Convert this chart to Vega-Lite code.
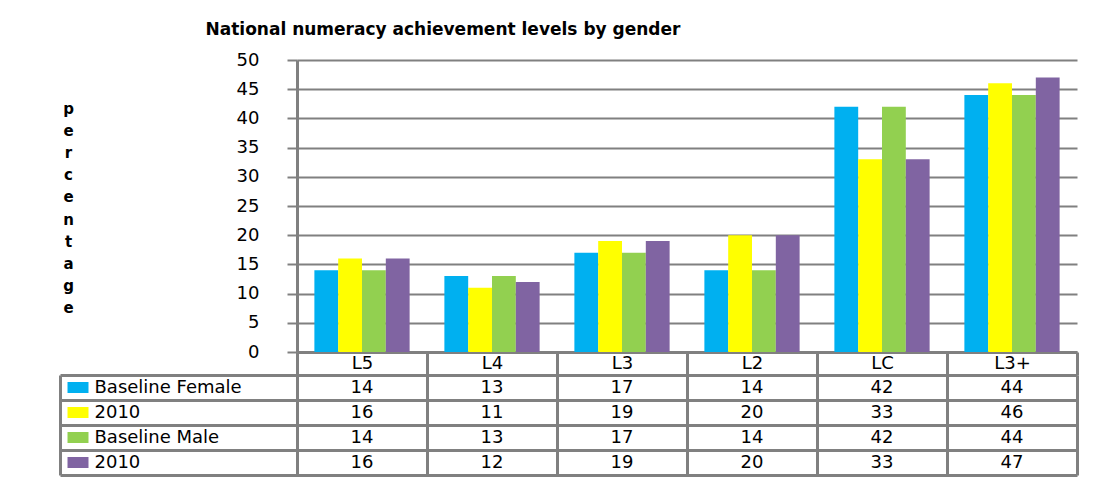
{
  "$schema": "https://vega.github.io/schema/vega-lite/v6.json",
  "padding": {"left": 58, "top": 21, "right": 0, "bottom": 0},
  "background": "white",
  "title": {
    "text": "National numeracy achievement levels by gender",
    "font": "DejaVu Sans", "fontSize": 17, "fontWeight": "bold", "color": "black",
    "anchor": "start", "dx": 147, "offset": 12
  },
  "config": {"view": {"stroke": null}, "font": "DejaVu Sans"},
  "data": {"values": [
    {"level": "L5", "series": "Baseline Female", "value": 14},
    {"level": "L5", "series": "2010 (Female)", "value": 16},
    {"level": "L5", "series": "Baseline Male", "value": 14},
    {"level": "L5", "series": "2010 (Male)", "value": 16},
    {"level": "L4", "series": "Baseline Female", "value": 13},
    {"level": "L4", "series": "2010 (Female)", "value": 11},
    {"level": "L4", "series": "Baseline Male", "value": 13},
    {"level": "L4", "series": "2010 (Male)", "value": 12},
    {"level": "L3", "series": "Baseline Female", "value": 17},
    {"level": "L3", "series": "2010 (Female)", "value": 19},
    {"level": "L3", "series": "Baseline Male", "value": 17},
    {"level": "L3", "series": "2010 (Male)", "value": 19},
    {"level": "L2", "series": "Baseline Female", "value": 14},
    {"level": "L2", "series": "2010 (Female)", "value": 20},
    {"level": "L2", "series": "Baseline Male", "value": 14},
    {"level": "L2", "series": "2010 (Male)", "value": 20},
    {"level": "LC", "series": "Baseline Female", "value": 42},
    {"level": "LC", "series": "2010 (Female)", "value": 33},
    {"level": "LC", "series": "Baseline Male", "value": 42},
    {"level": "LC", "series": "2010 (Male)", "value": 33},
    {"level": "L3+", "series": "Baseline Female", "value": 44},
    {"level": "L3+", "series": "2010 (Female)", "value": 46},
    {"level": "L3+", "series": "Baseline Male", "value": 44},
    {"level": "L3+", "series": "2010 (Male)", "value": 47}
  ]},
  "bounds": "flush",
  "spacing": 23,
  "vconcat": [
    {
      "width": 780, "height": 292,
      "mark": {"type": "bar"},
      "encoding": {
        "x": {
          "field": "level", "type": "nominal",
          "sort": ["L5", "L4", "L3", "L2", "LC", "L3+"],
          "scale": {"paddingInner": 0, "paddingOuter": 0},
          "axis": {
            "title": null, "orient": "bottom", "labelAngle": 0,
            "domain": true, "domainColor": "#808080", "domainWidth": 3,
            "ticks": true, "tickBand": "extent", "tickSize": 23, "tickColor": "#808080", "tickWidth": 3,
            "labelPadding": -11.5, "labelBaseline": "middle",
            "labelFont": "DejaVu Sans", "labelFontSize": 18, "labelColor": "black", "grid": false
          }
        },
        "xOffset": {
          "field": "series", "type": "nominal",
          "sort": ["Baseline Female", "2010 (Female)", "Baseline Male", "2010 (Male)"],
          "scale": {"paddingInner": 0, "paddingOuter": 0.73}
        },
        "y": {
          "field": "value", "type": "quantitative",
          "scale": {"domain": [0, 50], "nice": false},
          "axis": {
            "values": [0, 5, 10, 15, 20, 25, 30, 35, 40, 45, 50],
            "title": ["p", "e", "r", "c", "e", "n", "t", "a", "g", "e"],
            "titleAngle": 0, "titleAlign": "center", "titleBaseline": "middle",
            "titleX": -229, "titleY": 48, "titleLineHeight": 22.2,
            "titleFont": "DejaVu Sans", "titleFontSize": 15, "titleFontWeight": "bold", "titleColor": "black",
            "domain": true, "domainColor": "#808080", "domainWidth": 3,
            "ticks": true, "tickSize": 10, "tickColor": "#808080", "tickWidth": 2,
            "grid": true, "gridColor": "#808080", "gridWidth": 2,
            "labelPadding": 28, "labelFont": "DejaVu Sans", "labelFontSize": 18, "labelColor": "black"
          }
        },
        "color": {
          "field": "series", "type": "nominal",
          "scale": {
            "domain": ["Baseline Female", "2010 (Female)", "Baseline Male", "2010 (Male)"],
            "range": ["#00B0F0", "#FFFF00", "#92D050", "#8064A2"]
          },
          "legend": null
        }
      }
    },
    {
      "width": 780, "height": 100,
      "layer": [
        {
          "mark": {"type": "text", "font": "DejaVu Sans", "fontSize": 18, "color": "black", "baseline": "middle"},
          "encoding": {
            "x": {
              "field": "level", "type": "nominal",
              "sort": ["L5", "L4", "L3", "L2", "LC", "L3+"],
              "scale": {"paddingInner": 0, "paddingOuter": 0},
              "axis": {
                "title": null, "orient": "bottom", "labels": false, "ticks": false, "domain": false,
                "grid": true, "tickBand": "extent", "gridColor": "#808080", "gridWidth": 3
              }
            },
            "y": {
              "field": "series", "type": "nominal",
              "sort": ["Baseline Female", "2010 (Female)", "Baseline Male", "2010 (Male)"],
              "scale": {"paddingInner": 0, "paddingOuter": 0},
              "axis": {
                "orient": "left", "offset": 237, "title": null,
                "domain": true, "domainColor": "#808080", "domainWidth": 3,
                "ticks": true, "tickBand": "extent", "tickSize": -1017, "tickColor": "#808080", "tickWidth": 3,
                "grid": false,
                "labelAlign": "left", "labelBaseline": "middle", "labelPadding": 983, "labelLimit": 400,
                "labelExpr": "(datum.label === '2010 (Female)' || datum.label === '2010 (Male)') ? '2010' : datum.label",
                "labelFont": "DejaVu Sans", "labelFontSize": 18, "labelColor": "black"
              }
            },
            "text": {"field": "value", "type": "quantitative"}
          }
        },
        {
          "mark": {"type": "rect", "opacity": 0},
          "encoding": {
            "y": {
              "field": "series", "type": "nominal",
              "sort": ["Baseline Female", "2010 (Female)", "Baseline Male", "2010 (Male)"],
              "scale": {"paddingInner": 0, "paddingOuter": 0},
              "axis": {
                "orient": "left", "offset": 209, "title": null,
                "domain": false, "labels": false, "grid": false,
                "ticks": true, "tickBand": "center", "tickSize": 21, "tickWidth": 11,
                "tickColor": {
                  "condition": [
                    {"test": "datum.value === 'Baseline Female'", "value": "#00B0F0"},
                    {"test": "datum.value === '2010 (Female)'", "value": "#FFFF00"},
                    {"test": "datum.value === 'Baseline Male'", "value": "#92D050"}
                  ],
                  "value": "#8064A2"
                }
              }
            }
          }
        }
      ],
      "resolve": {"scale": {"y": "independent"}, "axis": {"y": "independent"}}
    }
  ]
}
